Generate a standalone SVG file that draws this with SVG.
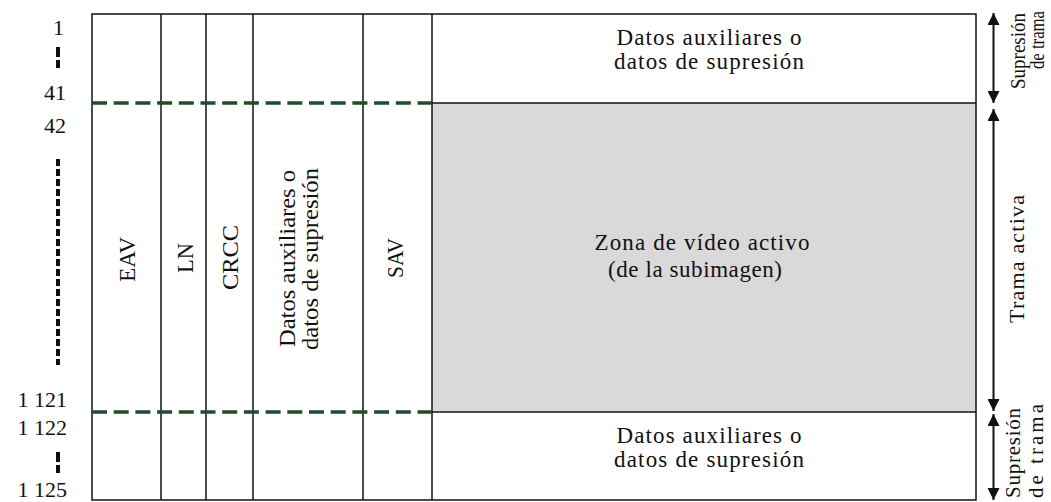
<svg xmlns="http://www.w3.org/2000/svg" width="1051" height="502" viewBox="0 0 1051 502" font-family="'Liberation Serif', 'Times New Roman', serif">
<style>
text{font-family:"Liberation Serif","Times New Roman",serif;fill:#111}
.num{font-size:22px;text-anchor:end}
.lbl{font-size:23px;text-anchor:middle}
.col{font-size:24px;text-anchor:middle}
.side{font-size:21px;text-anchor:middle}
.ln{stroke:#111;stroke-width:1.5;fill:none}
.grn{stroke:#1e4d2b;stroke-width:3.5;stroke-dasharray:15 6.7;fill:none}
.vd{stroke:#111;stroke-width:4;fill:none}
.arr{stroke:#111;stroke-width:2;fill:none;marker-start:url(#ah);marker-end:url(#ah)}
</style>
<defs>
<marker id="ah" markerUnits="userSpaceOnUse" markerWidth="12" markerHeight="12" refX="12" refY="6" orient="auto-start-reverse" viewBox="0 0 12 12">
<path d="M0,0 L12,6 L0,12 z" fill="#111"/>
</marker>
</defs>
<rect width="1051" height="502" fill="#fff"/>

<g id="frame">
<rect x="432" y="103" width="544" height="309" fill="#d9d9d9"/>
<rect class="ln" x="92" y="14" width="884" height="486"/>
<line class="ln" x1="161" y1="14" x2="161" y2="500"/>
<line class="ln" x1="206" y1="14" x2="206" y2="500"/>
<line class="ln" x1="253" y1="14" x2="253" y2="500"/>
<line class="ln" x1="363" y1="14" x2="363" y2="500"/>
<line class="ln" x1="432" y1="14" x2="432" y2="500"/>
<line class="ln" x1="432" y1="103" x2="976" y2="103"/>
<line class="ln" x1="432" y1="412" x2="976" y2="412"/>
</g>

<g id="top-aux">
<text class="lbl" x="709" y="45" textLength="185" lengthAdjust="spacing">Datos auxiliares o</text>
<text class="lbl" x="709" y="69" textLength="190" lengthAdjust="spacing">datos de supresión</text>
</g>
<g id="active-video">
<text class="lbl" x="702" y="250" textLength="215" lengthAdjust="spacing">Zona de vídeo activo</text>
<text class="lbl" x="695" y="277" textLength="174" lengthAdjust="spacing">(de la subimagen)</text>
</g>
<g id="bottom-aux">
<text class="lbl" x="709" y="443" textLength="185" lengthAdjust="spacing">Datos auxiliares o</text>
<text class="lbl" x="709" y="467" textLength="190" lengthAdjust="spacing">datos de supresión</text>
</g>

<g id="col-eav"><text class="col" transform="translate(135,259.5) rotate(-90)" textLength="45" lengthAdjust="spacingAndGlyphs">EAV</text></g>
<g id="col-ln"><text class="col" transform="translate(193,258) rotate(-90)" textLength="30" lengthAdjust="spacingAndGlyphs">LN</text></g>
<g id="col-crcc"><text class="col" transform="translate(238,257.5) rotate(-90)" textLength="65" lengthAdjust="spacingAndGlyphs">CRCC</text></g>
<g id="col-aux">
<text class="col" transform="translate(295,258.5) rotate(-90)" textLength="177" lengthAdjust="spacingAndGlyphs">Datos auxiliares o</text>
<text class="col" transform="translate(318,259) rotate(-90)" textLength="182" lengthAdjust="spacingAndGlyphs">datos de supresión</text>
</g>
<g id="col-sav"><text class="col" transform="translate(403,258) rotate(-90)" textLength="40" lengthAdjust="spacingAndGlyphs">SAV</text></g>

<g id="line-numbers">
<text class="num" x="64" y="35">1</text>
<text class="num" x="66" y="100">41</text>
<text class="num" x="66" y="133">42</text>
<text class="num" x="67" y="407">1 121</text>
<text class="num" x="67" y="435">1 122</text>
<text class="num" x="67" y="497">1 125</text>
<line class="vd" x1="58" y1="47" x2="58" y2="68" stroke-dasharray="10 3"/>
<line class="vd" x1="58" y1="159" x2="58" y2="365" stroke-dasharray="7 3"/>
<line class="vd" x1="58" y1="452" x2="58" y2="473" stroke-dasharray="10 3"/>
</g>

<g id="side-labels">
<text class="side" transform="translate(1025,51) rotate(-90)" textLength="76" lengthAdjust="spacingAndGlyphs">Supresión</text>
<text class="side" transform="translate(1044,40) rotate(-90)" style="font-size:20px" textLength="58" lengthAdjust="spacingAndGlyphs">de trama</text>
<text class="side" transform="translate(1024,259) rotate(-90)" style="font-size:22px" textLength="128" lengthAdjust="spacing">Trama activa</text>
<text class="side" transform="translate(1020,408) rotate(-90)" style="text-anchor:end" textLength="90" lengthAdjust="spacing">Supresión</text>
<text class="side" transform="translate(1043,404) rotate(-90)" style="text-anchor:end" textLength="94" lengthAdjust="spacing">de trama</text>
</g>

<g id="connectors">
<line class="grn" x1="92" y1="103" x2="432" y2="103"/>
<line class="grn" x1="92" y1="412" x2="432" y2="412"/>
<line class="arr" x1="993.5" y1="13" x2="993.5" y2="103"/>
<line class="arr" x1="993.5" y1="109" x2="993.5" y2="411"/>
<line class="arr" x1="993.5" y1="414" x2="993.5" y2="500"/>
</g>
</svg>
